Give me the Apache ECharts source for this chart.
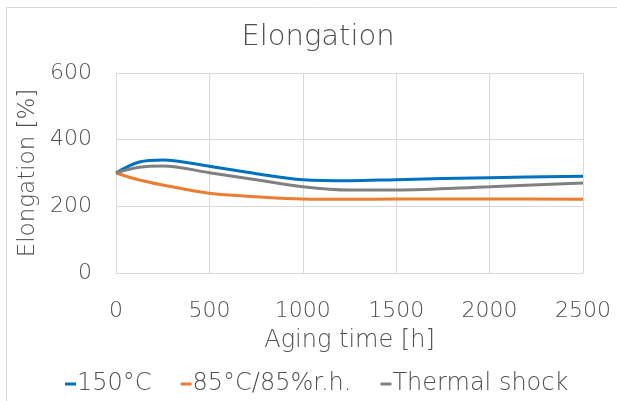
<!DOCTYPE html>
<html><head><meta charset="utf-8">
<script src="https://cdn.jsdelivr.net/npm/echarts@6/dist/echarts.min.js"></script>
<style>html,body{margin:0;padding:0;background:#fff}#c{width:617px;height:401px}</style>
</head><body><div id="c"></div>
<script>
var hours = [0, 125, 250, 500, 750, 1000, 1250, 1500, 2000, 2500];
var s150 = [300, 333, 339, 320, 298, 280, 277, 280, 286, 290];
var s85 = [300, 279, 264, 239, 229, 222, 221, 222, 222, 221];
var sShock = [300, 317, 321, 301, 280, 259, 249, 249, 259, 270];
var names = ['150°C', '85°C/85%r.h.', 'Thermal shock'];
var colors = ['#0070C0', '#ED7D31', '#808080'];
function pairs(v){ return hours.map(function(h,i){ return [h, v[i]]; }); }
var FONT = 'DejaVu Sans';
var W = 200;
var TC = '#4f4f4f';
var chart = echarts.init(document.getElementById('c'));
chart.setOption({
  animation: false,
  textStyle: { fontFamily: FONT },
  title: { text: 'Elongation', left: 313, top: 18, textAlign: 'center',
    textStyle: { fontFamily: FONT, fontSize: 29, fontWeight: W, color: TC } },
  graphic: [{ type: 'rect', shape: { x: 6.5, y: 7.5, width: 700, height: 500 }, silent: true,
    style: { fill: 'none', stroke: '#d9d9d9', lineWidth: 1 } }],
  grid: { left: 116, right: 34, top: 73, bottom: 128 },
  legend: { top: 367, left: 60, itemWidth: 11, itemHeight: 3, itemGap: 29,
    icon: 'rect',
    textStyle: { fontFamily: FONT, fontSize: 24, fontWeight: W, color: TC, padding: [0,0,0,-4] },
    data: names },
  xAxis: { type: 'value', min: 0, max: 2500, interval: 500,
    name: 'Aging time [h]', nameLocation: 'middle', nameGap: 56,
    nameTextStyle: { fontFamily: FONT, fontSize: 24, fontWeight: W, color: TC },
    axisLine: { show: true, lineStyle: { color: '#d9d9d9' } },
    axisTick: { show: false },
    axisLabel: { fontFamily: FONT, fontSize: 22, fontWeight: W, color: TC, margin: 27,
      formatter: function(v){ return String(v); } },
    splitLine: { show: true, lineStyle: { color: '#d9d9d9' } } },
  yAxis: { type: 'value', min: 0, max: 600, interval: 200,
    name: 'Elongation [%]', nameLocation: 'middle', nameGap: 66,
    nameTextStyle: { fontFamily: FONT, fontSize: 23, fontWeight: W, color: TC },
    axisLine: { show: true, lineStyle: { color: '#d9d9d9' } },
    axisTick: { show: false },
    axisLabel: { fontFamily: FONT, fontSize: 22, fontWeight: W, color: TC, margin: 24 },
    splitLine: { show: true, lineStyle: { color: '#d9d9d9' } } },
  series: [s150, s85, sShock].map(function(v, i){
    return { name: names[i], type: 'line', data: pairs(v), smooth: 0.35, showSymbol: false,
      symbol: 'none', lineStyle: { width: 3, color: colors[i] }, itemStyle: { color: colors[i] } };
  })
});
</script></body></html>
